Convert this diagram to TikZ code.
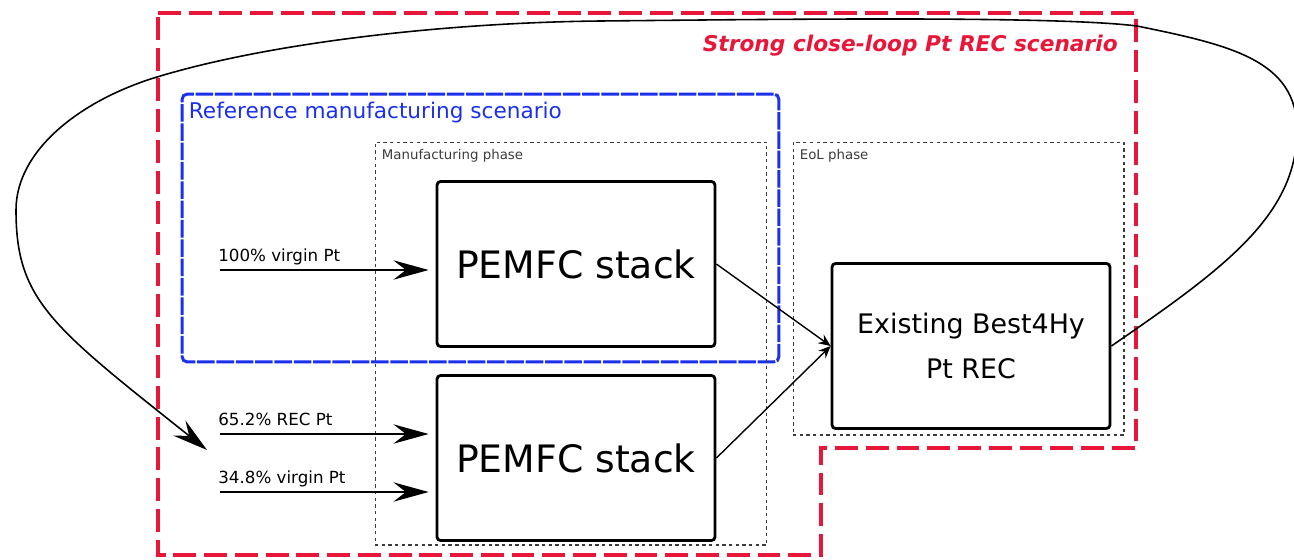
\documentclass[tikz,border=0pt]{standalone}
\usepackage{fontspec}
\setmainfont{DejaVu Sans}
\usetikzlibrary{arrows.meta}
\definecolor{rouge}{HTML}{E8173A}
\definecolor{bleu}{HTML}{1A30EE}
\definecolor{gris}{HTML}{3C3C3C}

\begin{document}
\begin{tikzpicture}[
    x=0.02cm, y=-0.02cm,
    scenario/.style={draw=rouge, line width=2.5pt, dash pattern=on 13pt off 4.5pt},
    reference/.style={draw=bleu, line width=1.7pt, dash pattern=on 10pt off 1pt,
      rounded corners=3pt, minimum width=11.94cm, minimum height=5.36cm},
    phase/.style={draw=gris, line width=0.6pt, dash pattern=on 1.9pt off 1.9pt},
    bloc/.style={draw, line width=1.6pt, rounded corners=2pt,
      minimum width=5.56cm, minimum height=3.3cm},
    flux/.style={-{Stealth[length=20pt,width=11pt,inset=7pt]}, line width=1.1pt},
    lien/.style={-{Stealth[length=7pt,width=6pt,inset=2.5pt]}, line width=0.8pt},
    etiq/.style={font=\fontsize{9.5}{11}\selectfont, inner sep=0pt, anchor=base west},
    titre/.style={font=\fontsize{7.6}{9}\selectfont, text=gris, inner sep=0pt, anchor=base west},
  ]
  \useasboundingbox (0,0) rectangle (1294,559);

  % cadres des scenarios
  \draw[scenario] (158,13) -- (1136,13) -- (1136,448) -- (821,448)
    -- (821,555) -- (158,555) -- cycle;
  \node[font=\fontsize{12.35}{14}\selectfont\bfseries\itshape, text=rouge,
    inner sep=0pt, anchor=base east] (fort) at (1118,51) {Strong close-loop Pt REC scenario};

  \node[reference] (refsc) at (480.5,228) {};
  \node[font=\fontsize{12.3}{14}\selectfont, text=bleu, inner sep=0pt, anchor=base west]
    (reflbl) at ([shift={(8,26)}]refsc.north west) {Reference manufacturing scenario};

  % phases
  \node[phase, minimum width=7.84cm, minimum height=8.06cm] (fab) at (571,343.5) {};
  \node[titre] (fablbl) at ([shift={(7,18)}]fab.north west) {Manufacturing phase};
  \node[phase, minimum width=6.62cm, minimum height=5.86cm] (fdv) at (958.5,288.5) {};
  \node[titre] (fdvlbl) at ([shift={(7,18)}]fdv.north west) {EoL phase};

  % blocs
  \node[bloc, font=\fontsize{21.5}{25}\selectfont] (pemA) at (576,264) {PEMFC stack};
  \node[bloc, font=\fontsize{21.5}{25}\selectfont] (pemB) at (576,458) {PEMFC stack};
  \node[bloc, align=center, font=\fontsize{15.3}{26}\selectfont] (rec) at (971,346)
    {Existing Best4Hy\\Pt REC};

  % entrees
  \coordinate (inA) at (220,270);
  \coordinate (inB) at (220,434);
  \coordinate (inC) at (220,492);
  \node[etiq] (lblA) at (218,261) {100\% virgin Pt};
  \node[etiq] (lblB) at (218,425) {65.2\% REC Pt};
  \node[etiq] (lblC) at (218,483) {34.8\% virgin Pt};
  \draw[flux] (inA) -- ([shift={(-7,6)}]pemA.west);
  \draw[flux] (inB) -- ([shift={(-7,-24)}]pemB.west);
  \draw[flux] (inC) -- ([shift={(-7,34)}]pemB.west);

  \draw[lien] (pemA.east) -- (rec.west);
  \draw[lien] (pemB.east) -- (rec.west);

  % boucle de recyclage
  \coordinate (retour) at (207,450);
  \draw[flux, line width=0.9pt] (rec.east)
    .. controls (1225,268) and (1297,215) .. (1297,130)
    .. controls (1297,60) and (1230,45) .. (1137,26)
    .. controls (1057,16) and (800,19) .. (600,21)
    .. controls (450,22.5) and (272,42) .. (157,77)
    .. controls (81,100) and (16,150) .. (16,210)
    .. controls (16,300) and (51,326) .. (retour);
\end{tikzpicture}
\end{document}
